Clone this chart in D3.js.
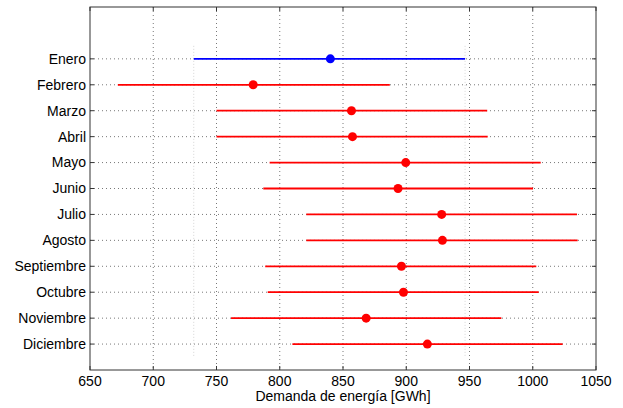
<!DOCTYPE html>
<html><head><meta charset="utf-8">
<script src="https://cdn.jsdelivr.net/npm/d3@7"></script>
<style>body{margin:0;background:#fff;} text{font-family:"Liberation Sans",Arial,sans-serif;}</style>
</head><body><svg id="c" width="623" height="408"></svg>
<script>
const months = ["Enero","Febrero","Marzo","Abril","Mayo","Junio","Julio","Agosto","Septiembre","Octubre","Noviembre","Diciembre"];
const lows   = [732, 672, 750, 750, 792, 787, 821, 821, 788.5, 790.5, 761.5, 810];
const means  = [840, 779, 856.7, 857.5, 899.6, 893.5, 928, 928.6, 896.2, 897.8, 868.3, 916.7];
const highs  = [946.5, 887, 964, 964.4, 1006.3, 1000.2, 1035, 1035.5, 1002.8, 1004.7, 975.2, 1023.6];
const xTicks = [650,700,750,800,850,900,950,1000,1050];
const xLabel = "Demanda de energía [GWh]";

const svg = d3.select("#c");
const L=90, R=596, T=7, B=370;
const x = d3.scaleLinear().domain([650,1050]).range([L,R]);
const y = d3.scaleLinear().domain([0,months.length+2]).range([T,B]);
const yPos = i => y(i+2);

// grid
const g = svg.append("g");
g.selectAll(".vg").data(xTicks.slice(1,-1)).enter().append("line")
  .attr("x1",d=>x(d)).attr("x2",d=>x(d)).attr("y1",T).attr("y2",B)
  .attr("stroke","#555").attr("stroke-width",0.8).attr("stroke-dasharray","1,3");
g.selectAll(".hg").data(months).enter().append("line")
  .attr("x1",L).attr("x2",R).attr("y1",(d,i)=>yPos(i)).attr("y2",(d,i)=>yPos(i))
  .attr("stroke","#555").attr("stroke-width",0.8).attr("stroke-dasharray","1,3");

// reference lines at first month's range
[lows[0],highs[0]].forEach(v=>{
  g.append("line").attr("x1",x(v)).attr("x2",x(v)).attr("y1",yPos(0)-13).attr("y2",yPos(months.length-1)+13)
   .attr("stroke","#ccc").attr("stroke-width",0.8).attr("stroke-dasharray","1,2");
});

// intervals
months.forEach((m,i)=>{
  const col = i===0 ? "#0000ff" : "#ff0000";
  svg.append("line").attr("x1",x(lows[i])).attr("x2",x(highs[i]))
    .attr("y1",yPos(i)).attr("y2",yPos(i)).attr("stroke",col).attr("stroke-width",1.8);
  svg.append("circle").attr("cx",x(means[i])).attr("cy",yPos(i)).attr("r",4.5).attr("fill",col);
});

// axes box
svg.append("rect").attr("x",L).attr("y",T).attr("width",R-L).attr("height",B-T)
  .attr("fill","none").attr("stroke","#333").attr("stroke-width",1);

// x ticks & labels
const xa = svg.append("g");
xTicks.forEach(v=>{
  xa.append("line").attr("x1",x(v)).attr("x2",x(v)).attr("y1",B).attr("y2",B-4).attr("stroke","#333");
  xa.append("line").attr("x1",x(v)).attr("x2",x(v)).attr("y1",T).attr("y2",T+4).attr("stroke","#333");
  xa.append("text").attr("x",x(v)).attr("y",B+16).attr("text-anchor","middle")
    .attr("font-size",14).attr("fill","#000").text(v);
});
months.forEach((m,i)=>{
  xa.append("line").attr("x1",L).attr("x2",L+4).attr("y1",yPos(i)).attr("y2",yPos(i)).attr("stroke","#333");
  xa.append("line").attr("x1",R).attr("x2",R-4).attr("y1",yPos(i)).attr("y2",yPos(i)).attr("stroke","#333");
  xa.append("text").attr("x",L-4).attr("y",yPos(i)).attr("dy","0.35em").attr("text-anchor","end")
    .attr("font-size",14).attr("fill","#000").text(m);
});
svg.append("text").attr("x",(L+R)/2).attr("y",401).attr("text-anchor","middle")
  .attr("font-size",14).attr("fill","#000").text(xLabel);
</script></body></html>
